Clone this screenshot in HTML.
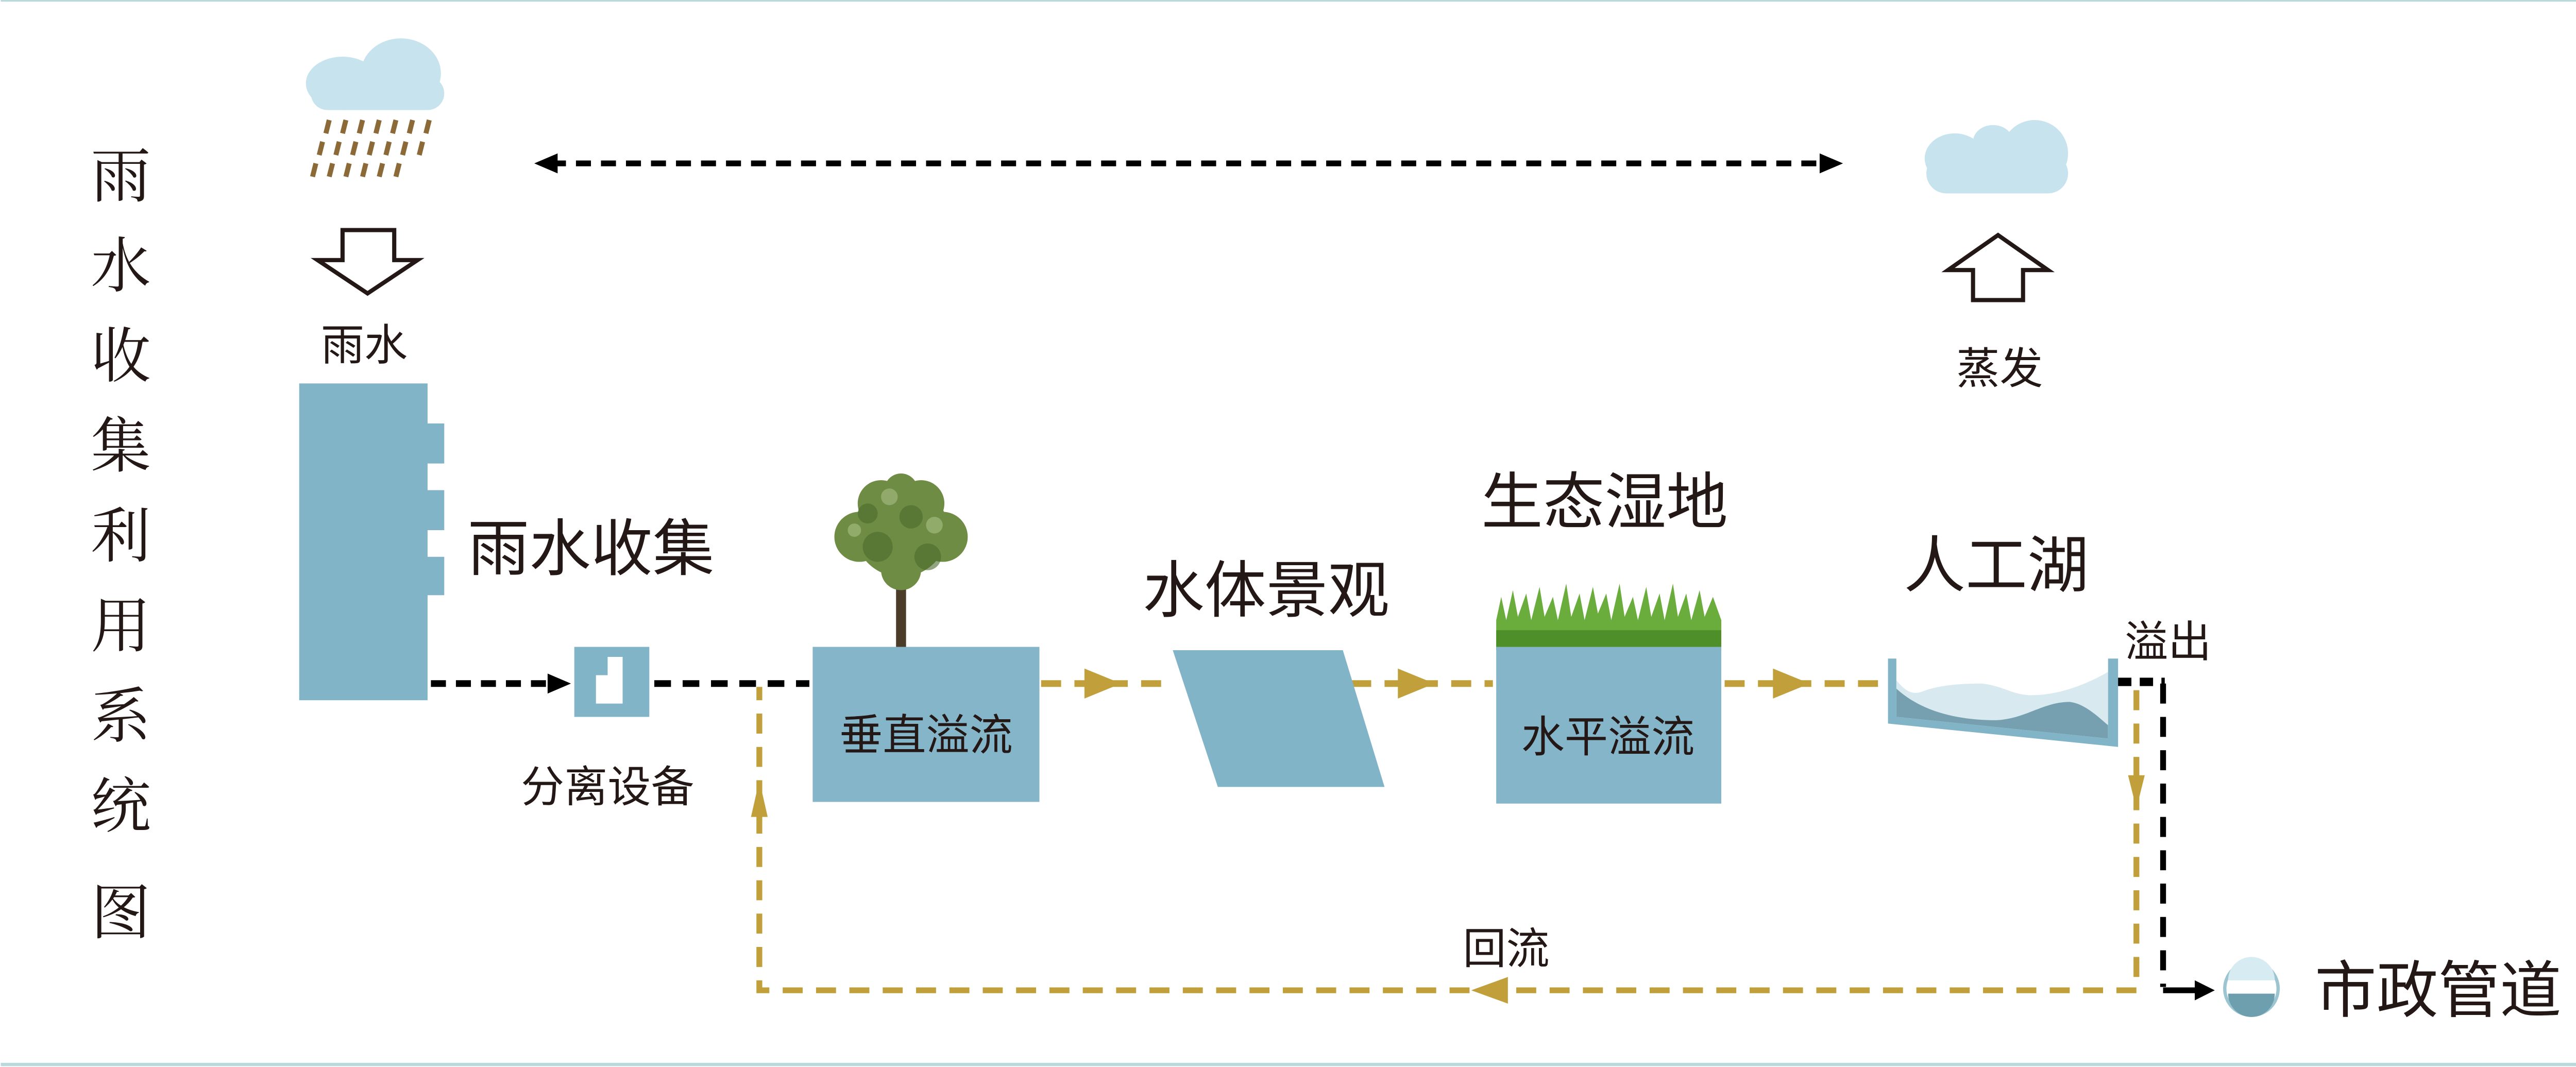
<!DOCTYPE html>
<html><head><meta charset="utf-8"><style>
html,body{margin:0;padding:0;background:#fff;overflow:hidden;}
svg{display:block;}
text{font-family:"Liberation Sans","Noto Sans CJK SC",sans-serif;fill:#231815;}
.t{font-family:"Noto Serif CJK SC","Liberation Serif",serif;}
</style></head><body>
<svg width="5077" height="2071" viewBox="0 0 1568 640" xmlns="http://www.w3.org/2000/svg">
<rect x="0" y="0" width="1568" height="640" fill="#fff"/>
<line x1="0" y1="0.5" x2="1568" y2="0.5" stroke="#b9d9dd" stroke-width="1"/>
<line x1="0" y1="638.5" x2="1568" y2="638.5" stroke="#b9d9dd" stroke-width="2"/>
<g class="t" font-size="36" text-anchor="middle">
<text class="t" x="72" y="118">雨</text>
<text class="t" x="72" y="172">水</text>
<text class="t" x="72" y="226">收</text>
<text class="t" x="72" y="280">集</text>
<text class="t" x="72" y="334">利</text>
<text class="t" x="72" y="388">用</text>
<text class="t" x="72" y="442">系</text>
<text class="t" x="72" y="496">统</text>
<text class="t" x="72" y="560">图</text>
</g>
<g fill="#c6e3ee">
<ellipse cx="205" cy="50" rx="22" ry="16"/>
<ellipse cx="240" cy="44" rx="24" ry="21"/>
<rect x="186" y="46" width="80" height="20" rx="10"/>
</g>
<g stroke="#8c6a38" stroke-width="3">
<line x1="197" y1="72" x2="195" y2="80"/><line x1="207" y1="72" x2="205" y2="80"/><line x1="217" y1="72" x2="215" y2="80"/><line x1="227" y1="72" x2="225" y2="80"/><line x1="237" y1="72" x2="235" y2="80"/><line x1="247" y1="72" x2="245" y2="80"/><line x1="257" y1="72" x2="255" y2="80"/>
<line x1="193" y1="85" x2="191" y2="93"/><line x1="203" y1="85" x2="201" y2="93"/><line x1="213" y1="85" x2="211" y2="93"/><line x1="223" y1="85" x2="221" y2="93"/><line x1="233" y1="85" x2="231" y2="93"/><line x1="243" y1="85" x2="241" y2="93"/><line x1="253" y1="85" x2="251" y2="93"/>
<line x1="189" y1="98" x2="187" y2="106"/><line x1="199" y1="98" x2="197" y2="106"/><line x1="209" y1="98" x2="207" y2="106"/><line x1="219" y1="98" x2="217" y2="106"/><line x1="229" y1="98" x2="227" y2="106"/><line x1="239" y1="98" x2="237" y2="106"/>
</g>
<path d="M205,138 H236 V156 H250 L220,176 L190,156 H205Z" fill="#fff" stroke="#231815" stroke-width="2.5"/>
<text x="218" y="216" font-size="26" text-anchor="middle">雨水</text>
<path d="M179,230 H256 V254 H266 V278 H256 V294 H266 V318 H256 V334 H266 V357 H256 V420 H179Z" fill="#82b4c8"/>
<text x="280" y="342" font-size="37">雨水收集</text>
<line x1="330" y1="98" x2="1095" y2="98" stroke="#000" stroke-width="3.5" stroke-dasharray="9,6"/>
<path d="M320,98 L334,92 L334,104Z" fill="#000"/>
<path d="M1105,98 L1091,92 L1091,104Z" fill="#000"/>
<g fill="#c6e3ee">
<ellipse cx="1172" cy="95" rx="18" ry="15"/>
<ellipse cx="1220" cy="92" rx="20" ry="20"/>
<ellipse cx="1195" cy="85" rx="12" ry="10"/>
<rect x="1155" y="92" width="85" height="24" rx="12"/>
</g>
<path d="M1183,180 H1213 V162 H1228 L1198,141 L1168,162 H1183Z" fill="#fff" stroke="#231815" stroke-width="2.5"/>
<text x="1199" y="230" font-size="26" text-anchor="middle">蒸发</text>
<line x1="258" y1="410" x2="332" y2="410" stroke="#000" stroke-width="4" stroke-dasharray="9,6"/>
<path d="M342,410 L328,404 L328,416Z" fill="#000"/>
<rect x="344" y="388" width="45" height="42" fill="#82b4c8"/>
<path d="M357,405 H364 V394 H373 V422 H357Z" fill="#fff"/>
<text x="364" y="481" font-size="26" text-anchor="middle">分离设备</text>
<line x1="392" y1="410" x2="485" y2="410" stroke="#000" stroke-width="4" stroke-dasharray="10,7"/>
<rect x="537" y="345" width="6" height="45" fill="#4a3c28"/>
<g fill="#6f8c45">
<circle cx="540" cy="318" r="28"/><circle cx="515" cy="322" r="15"/><circle cx="565" cy="322" r="15"/><circle cx="528" cy="302" r="14"/><circle cx="552" cy="302" r="14"/><circle cx="540" cy="342" r="12"/><circle cx="540" cy="294" r="10"/>
</g>
<g fill="#4c6a2c" opacity="0.6"><circle cx="526" cy="328" r="9"/><circle cx="556" cy="334" r="8"/><circle cx="546" cy="310" r="7"/><circle cx="520" cy="308" r="6"/></g>
<g fill="#a9bf86" opacity="0.6"><circle cx="533" cy="298" r="5"/><circle cx="560" cy="315" r="5"/><circle cx="512" cy="318" r="4"/></g>
<rect x="487" y="388" width="136" height="93" fill="#84b5c9"/>
<text x="555" y="450" font-size="26" text-anchor="middle">垂直溢流</text>
<g stroke="#c1a03c" stroke-width="4" stroke-dasharray="12,8" fill="none">
<line x1="624" y1="410" x2="700" y2="410"/>
<line x1="790" y1="410" x2="895" y2="410"/>
<line x1="1034" y1="410" x2="1130" y2="410"/>
</g>
<g fill="#c1a03c">
<path d="M672,410 L650,401 L650,419Z"/>
<path d="M860,410 L838,401 L838,419Z"/>
<path d="M1085,410 L1063,401 L1063,419Z"/>
</g>
<path d="M703,390 H805 L830,472 H730Z" fill="#82b4c8"/>
<text x="759" y="367" font-size="37" text-anchor="middle">水体景观</text>
<text x="962" y="314" font-size="37" text-anchor="middle">生态湿地</text>
<path d="M897,390 L897,372 L900,358 L903,372 L907,354 L910,370 L915,356 L918,372 L923,352 L926,370 L931,358 L934,372 L939,350 L942,370 L947,356 L950,372 L955,352 L958,368 L963,356 L966,372 L971,350 L974,370 L979,358 L982,372 L987,352 L990,370 L995,356 L998,372 L1003,350 L1006,370 L1011,356 L1014,372 L1019,354 L1022,370 L1027,358 L1032,372 L1032,390Z" fill="#6aad3c"/>
<rect x="897" y="378" width="135" height="12" fill="#4f8f2a"/>
<rect x="897" y="388" width="135" height="94" fill="#84b5c9"/>
<text x="964" y="451" font-size="26" text-anchor="middle">水平溢流</text>
<text x="1197" y="352" font-size="37" text-anchor="middle">人工湖</text>
<path d="M1137,408 C1142,414 1146,417 1152,415 C1162,411 1175,410 1188,410 C1200,411 1207,417 1218,417 C1235,417 1252,410 1264,403 L1264,443 L1137,430Z" fill="#d8e9ef"/>
<path d="M1137,413 C1150,425 1170,432 1197,432 C1215,431 1225,421 1241,421 C1250,422 1258,430 1264,435 L1264,443 L1137,430Z" fill="#76a0b0"/>
<path d="M1132,395 L1132,434 L1270,448 L1270,395 L1264,395 L1264,443 L1137,430 L1137,395Z" fill="#82b4c8"/>
<text x="1300" y="394" font-size="26" text-anchor="middle">溢出</text>
<line x1="1270" y1="409" x2="1298" y2="409" stroke="#000" stroke-width="5" stroke-dasharray="8,5"/>
<line x1="1297" y1="410" x2="1297" y2="592" stroke="#000" stroke-width="3.5" stroke-dasharray="12,8"/>
<line x1="1297" y1="594" x2="1318" y2="594" stroke="#000" stroke-width="3.5"/>
<path d="M1328,594 L1316,588 L1316,600Z" fill="#000"/>
<g stroke="#c1a03c" stroke-width="3.5" stroke-dasharray="12,8" fill="none">
<path d="M1281,414 L1281,594 L455,594 L455,412"/>
</g>
<path d="M1281,485 L1276,465 L1286,465Z" fill="#c1a03c"/>
<path d="M882,594 L904,586 L904,602Z" fill="#c1a03c"/>
<path d="M455,468 L450,490 L460,490Z" fill="#c1a03c"/>
<text x="903" y="578" font-size="26" text-anchor="middle">回流</text>
<circle cx="1350" cy="593" r="16" fill="#fff" stroke="#9cc5d2" stroke-width="2"/>
<path d="M1336,596 A14,14 0 0 0 1364,596Z" fill="#6d9fae"/>
<path d="M1336,588 A14,14 0 0 1 1364,588Z" fill="#d7ebf2"/>
<text x="1388" y="607" font-size="37">市政管道</text>
</svg>
</body></html>
